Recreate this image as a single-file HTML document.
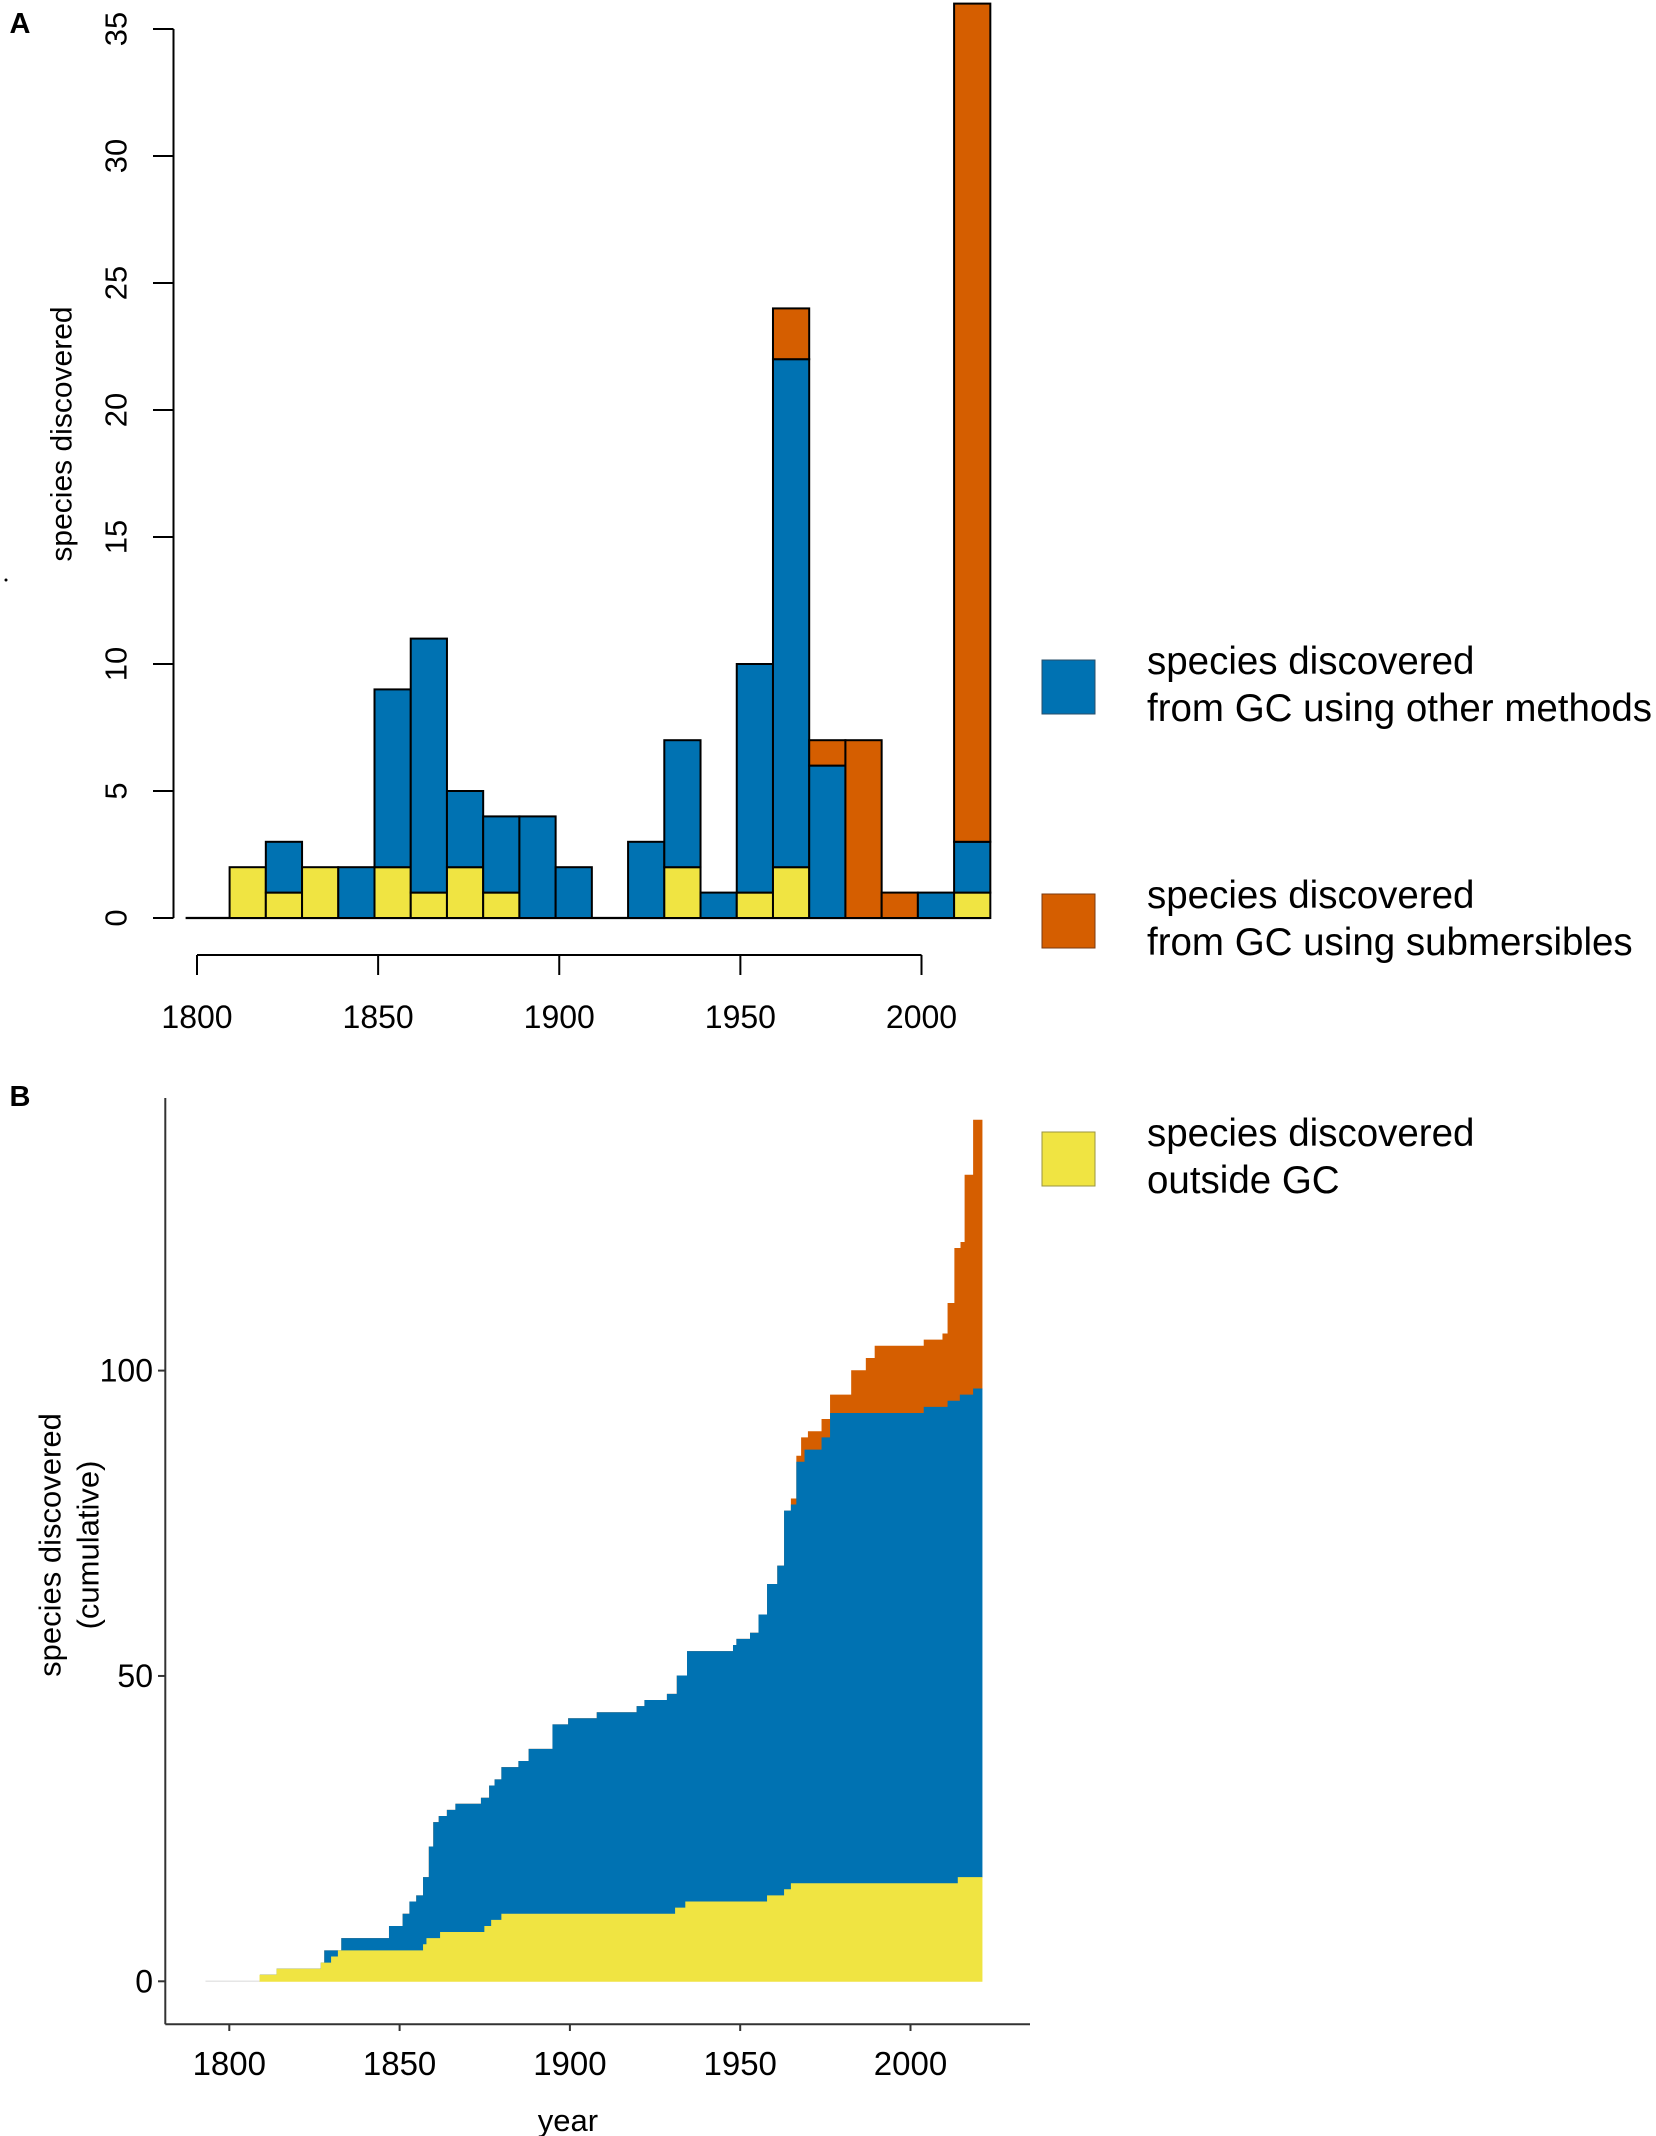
<!DOCTYPE html>
<html><head><meta charset="utf-8"><style>
html,body{margin:0;padding:0;background:#fff;}
svg{display:block;font-family:"Liberation Sans",Arial,sans-serif;}
</style></head><body>
<svg id="fig" width="1656" height="2136" viewBox="0 0 1656 2136" xmlns="http://www.w3.org/2000/svg">
  <text x="20" y="33" font-size="29" font-weight="bold" text-anchor="middle">A</text>
  <text x="20" y="1106" font-size="29" font-weight="bold" text-anchor="middle">B</text>
  <circle cx="6" cy="580" r="1.5" fill="#000"/>
  <g id="panelA"></g>
  <g id="panelB"></g>
  <g font-size="38.5">
    <g>
      <rect x="1042" y="660" width="53" height="54" fill="#0072B2" stroke="#2a4f6a" stroke-width="1"/>
      <text x="1147" y="674">species discovered</text>
      <text x="1147" y="721">from GC using other methods</text>
    </g>
    <g>
      <rect x="1042" y="894" width="53" height="54" fill="#D55E00" stroke="#7a3a10" stroke-width="1"/>
      <text x="1147" y="908">species discovered</text>
      <text x="1147" y="955">from GC using submersibles</text>
    </g>
    <g>
      <rect x="1042" y="1132" width="53" height="54" fill="#F0E442" stroke="#9a9440" stroke-width="1"/>
      <text x="1147" y="1146">species discovered</text>
      <text x="1147" y="1193">outside GC</text>
    </g>
  </g>
</svg>
<script>
// ---------- Panel A data ----------
const binStarts = [1809,1819,1829,1839,1849,1859,1869,1879,1889,1899,1909,1919,1929,1939,1949,1959,1969,1979,1989,1999,2009];
const yellowCounts = [2,1,2,0,2,1,2,1,0,0,0,0,2,0,1,2,0,0,0,0,1];
const blueCounts   = [0,2,0,2,7,10,3,3,4,2,0,3,5,1,9,20,6,0,0,1,2];
const orangeCounts = [0,0,0,0,0,0,0,0,0,0,0,0,0,0,0,2,1,7,1,0,33];
const aYTicks = [0,5,10,15,20,25,30,35];
const aXTicks = [1800,1850,1900,1950,2000];
const binWidth = 10;

// ---------- Panel B data (cumulative top lines: [year, value]) ----------
const yellowTop = [[1809,1],[1814,2],[1827,3],[1830,4],[1832,5],[1857,6],[1858,7],[1862,8],[1875,9],[1877,10],[1880,11],[1931,12],[1934,13],[1958,14],[1963,15],[1965,16],[2014,17]];
const blueTop = [[1827,3],[1828,5],[1833,7],[1847,9],[1851,11],[1853,13],[1855,14],[1857,17],[1858.7,22],[1860,26],[1861.6,27],[1864,28],[1866.5,29],[1874,30],[1876.4,32],[1878,33],[1880,35],[1885,36],[1888,38],[1895,42],[1899.6,43],[1908,44],[1919.7,45],[1922,46],[1928.6,47],[1931.5,50],[1934.5,54],[1948,55],[1949,56],[1953,57],[1955.5,60],[1958,65],[1961,68],[1963,77],[1965,78],[1966.6,85],[1969,87],[1974,89],[1976.5,93],[2004,94],[2011,95],[2014.6,96],[2018.5,97]];
const totalTop = [[1827,3],[1828,5],[1833,7],[1847,9],[1851,11],[1853,13],[1855,14],[1857,17],[1858.7,22],[1860,26],[1861.6,27],[1864,28],[1866.5,29],[1874,30],[1876.4,32],[1878,33],[1880,35],[1885,36],[1888,38],[1895,42],[1899.6,43],[1908,44],[1919.7,45],[1922,46],[1928.6,47],[1931.5,50],[1934.5,54],[1948,55],[1949,56],[1953,57],[1955.5,60],[1958,65],[1961,68],[1963,77],[1965,79],[1966.6,86],[1968,89],[1970,90],[1974,92],[1976.5,96],[1982.7,100],[1987,102],[1989.6,104],[2004,105],[2009.5,106],[2011,111],[2013,120],[2014.8,121],[2016,132],[2018.5,141]];
const bYTicks = [0,50,100];
const bXTicks = [1800,1850,1900,1950,2000];
const bStart = 1809, bEnd = 2021;

const NS = "http://www.w3.org/2000/svg";
function mk(tag, attrs, parent){
  const e = document.createElementNS(NS, tag);
  for (const k in attrs) e.setAttribute(k, attrs[k]);
  parent.appendChild(e);
  return e;
}
const COL = {y:"#F0E442", b:"#0072B2", o:"#D55E00"};

// ---------- Panel A ----------
const A = document.getElementById('panelA');
const XA = y => 197 + (y - 1800) * 3.6225;
const YA = v => 918 - v * 25.4;

const base = mk('line', {x1:185.6, x2:XA(binStarts[binStarts.length-1]+binWidth), y1:YA(0), y2:YA(0), stroke:'#000', 'stroke-width':2.2}, A);



binStarts.forEach((s, i) => {
  const x = XA(s), w = XA(s + binWidth) - XA(s);
  const segs = [[0, yellowCounts[i], COL.y, 'yellow'],
                [yellowCounts[i], yellowCounts[i] + blueCounts[i], COL.b, 'blue'],
                [yellowCounts[i] + blueCounts[i], yellowCounts[i] + blueCounts[i] + orangeCounts[i], COL.o, 'orange']];
  segs.forEach(sg => {
    if (sg[1] <= sg[0]) return;
    const r = mk('rect', {x:x, y:YA(sg[1]), width:w, height:YA(sg[0]) - YA(sg[1]), fill:sg[2], stroke:'#000', 'stroke-width':2}, A);
    
    
  });
});

const ay = mk('line', {x1:173.5, x2:173.5, y1:YA(0), y2:YA(35), stroke:'#000', 'stroke-width':2}, A);


aYTicks.forEach(t => {
  const tk = mk('line', {x1:153, x2:173.5, y1:YA(t), y2:YA(t), stroke:'#000', 'stroke-width':2}, A);
  
  
  const tx = mk('text', {x:0, y:0, 'font-size':31, 'text-anchor':'middle', 'dominant-baseline':'central', transform:`translate(116,${YA(t)}) rotate(-90)`}, A);
  tx.textContent = t;
  
  
});
const ayt = mk('text', {x:0, y:0, 'font-size':30, 'text-anchor':'middle', 'dominant-baseline':'central', transform:'translate(62,434) rotate(-90)'}, A);
ayt.textContent = 'species discovered';



const ax = mk('line', {x1:XA(1800), x2:XA(2000), y1:955, y2:955, stroke:'#000', 'stroke-width':2}, A);


aXTicks.forEach(t => {
  const tk = mk('line', {x1:XA(t), x2:XA(t), y1:955, y2:975, stroke:'#000', 'stroke-width':2}, A);
  
  
  const tx = mk('text', {x:XA(t), y:1028, 'font-size':32, 'text-anchor':'middle'}, A);
  tx.textContent = t;
  
  
});

// ---------- Panel B ----------
const B = document.getElementById('panelB');
const XB = y => 229.3 + (y - 1800) * 3.406;
const YB = v => 1981.3 - v * 6.107;

function valAt(arr, x){
  let v = 0;
  for (const p of arr) { if (p[0] <= x) v = p[1]; else break; }
  return v;
}
const allX = Array.from(new Set([bStart, bEnd].concat(yellowTop.map(p=>p[0]), blueTop.map(p=>p[0]), totalTop.map(p=>p[0])))).sort((a,b)=>a-b);

function stepPts(fn){
  const pts = [];
  for (let i = 0; i < allX.length; i++) {
    const x = allX[i];
    const v = fn(x);
    const nx = i < allX.length - 1 ? allX[i+1] : x;
    pts.push([XB(x), YB(v)]);
    pts.push([XB(nx), YB(v)]);
  }
  return pts;
}
function band(lowerFn, upperFn, color, name){
  const up = stepPts(upperFn);
  const lo = stepPts(lowerFn).reverse();
  const d = 'M' + up.concat(lo).map(p => p[0].toFixed(2) + ',' + p[1].toFixed(2)).join('L') + 'Z';
  const p = mk('path', {d:d, fill:color, stroke:color, 'stroke-width':0.8}, B);
  
  
}
const zeroFn = x => 0;
const yFn = x => valAt(yellowTop, x);
const bFn = x => Math.max(valAt(blueTop, x), yFn(x));
const tFn = x => Math.max(valAt(totalTop, x), bFn(x));

const faint = mk('line', {x1:XB(1793), x2:XB(bStart), y1:YB(0), y2:YB(0), stroke:'#e6e6e6', 'stroke-width':1.5}, B);



band(bFn, tFn, COL.o, 'area-submersibles');
band(yFn, bFn, COL.b, 'area-other-methods');
band(zeroFn, yFn, COL.y, 'area-outside-gc');

const by = mk('line', {x1:165.3, x2:165.3, y1:1098, y2:2024.3, stroke:'#333', 'stroke-width':2}, B);


const bx = mk('line', {x1:165.3, x2:1030, y1:2024.3, y2:2024.3, stroke:'#333', 'stroke-width':2}, B);



bYTicks.forEach(t => {
  const tk = mk('line', {x1:158, x2:165.3, y1:YB(t), y2:YB(t), stroke:'#333', 'stroke-width':2}, B);
  
  
  const tx = mk('text', {x:153, y:YB(t) + 11, 'font-size':32, 'text-anchor':'end'}, B);
  tx.textContent = t;
  
  
});
bXTicks.forEach(t => {
  const tk = mk('line', {x1:XB(t), x2:XB(t), y1:2024.3, y2:2031, stroke:'#333', 'stroke-width':2}, B);
  
  
  const tx = mk('text', {x:XB(t), y:2075, 'font-size':33, 'text-anchor':'middle'}, B);
  tx.textContent = t;
  
  
});
const bxt = mk('text', {x:XB(1900) - 2, y:2131, 'font-size':31, 'text-anchor':'middle'}, B);
bxt.textContent = 'year';


const byt1 = mk('text', {x:0, y:0, 'font-size':31, 'text-anchor':'middle', 'dominant-baseline':'central', transform:'translate(50,1545) rotate(-90)'}, B);
byt1.textContent = 'species discovered';


const byt2 = mk('text', {x:0, y:0, 'font-size':31, 'text-anchor':'middle', 'dominant-baseline':'central', transform:'translate(88,1545) rotate(-90)'}, B);
byt2.textContent = '(cumulative)';


</script>
</body></html>
